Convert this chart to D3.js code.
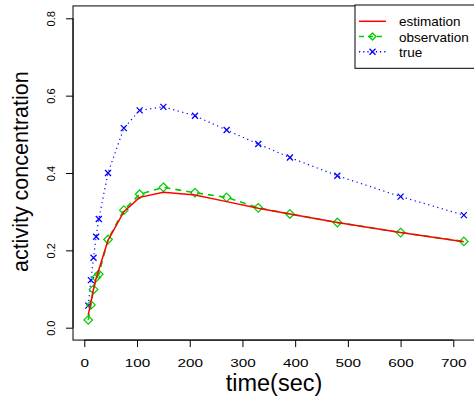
<!DOCTYPE html>
<html>
<head>
<meta charset="utf-8">
<script src="https://cdn.jsdelivr.net/npm/d3@7"></script>
<style>
  body { margin: 0; background: #fff; }
  svg { font-family: "Liberation Sans", Arial, Helvetica, sans-serif; }
</style>
</head>
<body>
<div id="chart"></div>
<script>
const times = [7.5, 12.5, 17.5, 22.5, 27.5, 45, 75, 105, 150, 210, 270, 330, 390, 480, 600, 720];
const estimation = [0.033, 0.065, 0.100, 0.128, 0.150, 0.226, 0.300, 0.337, 0.350, 0.343, 0.326, 0.309, 0.294, 0.272, 0.246, 0.222];
const observation = [0.020, 0.059, 0.099, 0.130, 0.138, 0.228, 0.304, 0.345, 0.363, 0.349, 0.337, 0.310, 0.294, 0.272, 0.246, 0.223];
const truth = [0.057, 0.123, 0.181, 0.235, 0.281, 0.400, 0.516, 0.562, 0.571, 0.548, 0.511, 0.475, 0.440, 0.393, 0.339, 0.291];
const xTicks = [0, 100, 200, 300, 400, 500, 600, 700];
const yTicks = [0.0, 0.2, 0.4, 0.6, 0.8];
const legendLabels = ['estimation', 'observation', 'true'];

const width = 474, height = 400;

const svg = d3.select('#chart')
  .append('svg')
  .attr('width', width)
  .attr('height', height);

const x = d3.scaleLinear().domain([0, 700]).range([84.3, 453.3]);
const y = d3.scaleLinear().domain([0, 0.8]).range([327.7, 18.3]);

// plot box, R style 4% padding
const x0 = x(-21.4), x1 = x(748.5), y0 = y(-0.032), y1 = y(0.832);
svg.append('rect')
  .attr('x', x0).attr('y', y1)
  .attr('width', x1 - x0).attr('height', y0 - y1)
  .attr('fill', 'none').attr('stroke', '#000').attr('stroke-width', 1);

// x axis
const xAxis = svg.append('g')
  .attr('transform', `translate(0, ${y0})`)
  .call(d3.axisBottom(x).tickValues(xTicks).tickSize(7).tickFormat(d3.format('d')));
xAxis.select('.domain').attr('d', `M${x(0)},0H${x(700)}`);
xAxis.selectAll('text')
  .attr('font-size', 11.5).attr('fill', '#000')
  .attr('y', 0).attr('dy', 0)
  .attr('transform', 'translate(0, 26.8) scale(1.33, 1)');

// y axis
const yAxis = svg.append('g')
  .attr('transform', `translate(${x0}, 0)`)
  .call(d3.axisLeft(y).tickValues(yTicks).tickSize(7).tickFormat(d3.format('.1f')));
yAxis.select('.domain').attr('d', `M0,${y(0)}V${y(0.8)}`);
yAxis.selectAll('.tick text')
  .attr('font-size', 11).attr('fill', '#000')
  .attr('text-anchor', 'middle')
  .attr('x', 0).attr('y', 0).attr('dy', 0)
  .attr('transform', 'translate(-18, 0) rotate(-90)');

// axis titles
svg.append('text')
  .attr('x', 274).attr('y', 391)
  .attr('text-anchor', 'middle').attr('font-size', 23.5)
  .text('time(sec)');
svg.append('text')
  .attr('transform', 'translate(27.5, 171.7) rotate(-90)')
  .attr('text-anchor', 'middle').attr('font-size', 21.5)
  .text('activity concentration');

const line = d3.line().x(d => x(d[0])).y(d => y(d[1]));
const pts = vals => times.map((t, i) => [t, vals[i]]);

// true, blue dotted + x
svg.append('path')
  .attr('d', line(pts(truth)))
  .attr('fill', 'none').attr('stroke', '#0000ff')
  .attr('stroke-width', 1.2).attr('stroke-dasharray', '1.2,3.5');
svg.append('g').selectAll('path')
  .data(pts(truth))
  .join('path')
  .attr('d', 'M-3,-3L3,3M-3,3L3,-3')
  .attr('transform', d => `translate(${x(d[0])}, ${y(d[1])})`)
  .attr('stroke', '#0000ff').attr('stroke-width', 1.3);

// observation, green dashed + diamonds
svg.append('path')
  .attr('d', line(pts(observation)))
  .attr('fill', 'none').attr('stroke', '#00cd00')
  .attr('stroke-width', 1.6).attr('stroke-dasharray', '6,5');
svg.append('g').selectAll('path')
  .data(pts(observation))
  .join('path')
  .attr('d', 'M0,-4.3L4.3,0L0,4.3L-4.3,0Z')
  .attr('transform', d => `translate(${x(d[0])}, ${y(d[1])})`)
  .attr('fill', 'none').attr('stroke', '#00cd00').attr('stroke-width', 1.2);

// estimation, red solid
svg.append('path')
  .attr('d', line(pts(estimation)))
  .attr('fill', 'none').attr('stroke', '#ff0000')
  .attr('stroke-width', 1.5);

// legend
const lg = svg.append('g');
lg.append('rect')
  .attr('x', 355).attr('y', 5).attr('width', 125).attr('height', 63.3)
  .attr('fill', '#fff').attr('stroke', '#000').attr('stroke-width', 1);
const legendY = [21.3, 36.5, 51.7];
const legendColor = ['#ff0000', '#00cd00', '#0000ff'];
const legendDash = [null, '5,4', '1.2,3'];
legendLabels.forEach((lab, i) => {
  lg.append('line')
    .attr('x1', 359).attr('x2', 386)
    .attr('y1', legendY[i]).attr('y2', legendY[i])
    .attr('stroke', legendColor[i]).attr('stroke-width', 1.5)
    .attr('stroke-dasharray', legendDash[i]);
  if (i === 1) {
    lg.append('path')
      .attr('d', 'M0,-3.5L3.5,0L0,3.5L-3.5,0Z')
      .attr('transform', `translate(372.5, ${legendY[i]})`)
      .attr('fill', 'none').attr('stroke', legendColor[i]).attr('stroke-width', 1.3);
  }
  if (i === 2) {
    lg.append('path')
      .attr('d', 'M-3,-3L3,3M-3,3L3,-3')
      .attr('transform', `translate(372.5, ${legendY[i]})`)
      .attr('stroke', legendColor[i]).attr('stroke-width', 1.3);
  }
  lg.append('text')
    .attr('x', 399).attr('y', legendY[i] + 5)
    .attr('font-size', 13.5)
    .text(lab);
});
</script>
</body>
</html>
